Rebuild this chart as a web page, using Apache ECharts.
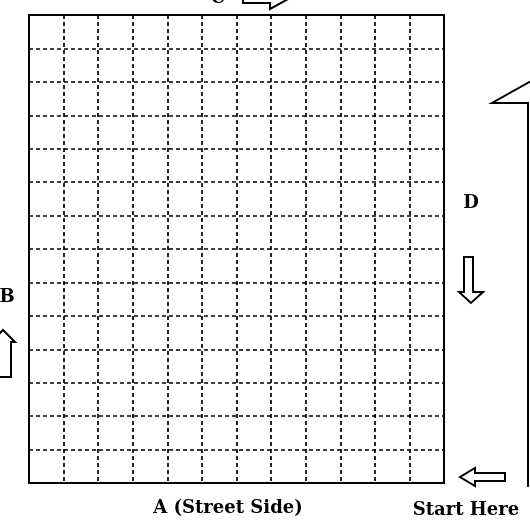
<!DOCTYPE html>
<html>
<head>
<meta charset="utf-8">
<script src="https://cdn.jsdelivr.net/npm/echarts@6/dist/echarts.min.js"></script>
<style>
  html, body { margin: 0; padding: 0; background: #fff; }
  #plot { width: 530px; height: 528px; }
</style>
</head>
<body>
<div id="plot"></div>
<script>
  // grid cells: 12 columns along the street side, 14 rows up the sides
  var colTicks = [0, 1, 2, 3, 4, 5, 6, 7, 8, 9, 10, 11, 12]
  var rowTicks = [0, 1, 2, 3, 4, 5, 6, 7, 8, 9, 10, 11, 12, 13, 14]
  var sideLabels = ['A (Street Side)', 'B', 'C', 'D']
  var startLabel = 'Start Here'

  var chart = echarts.init(document.getElementById('plot'))
  var font = '"DejaVu Serif", "Liberation Serif", serif'
  var ink = '#000'

  var dashed = {
    show: true,
    lineStyle: { color: ink, width: 1.7, type: [4, 3] }
  }

  function arrow(points) {
    return {
      type: 'polygon',
      shape: { points: points },
      style: { fill: '#fff', stroke: ink, lineWidth: 2 },
      z: 10
    }
  }

  var option = {
    animation: false,
    backgroundColor: '#fff',
    grid: {
      left: 29,
      top: 15,
      width: 415,
      height: 468,
      show: true,
      borderColor: ink,
      borderWidth: 2,
      z: 5
    },
    xAxis: {
      type: 'value',
      min: colTicks[0],
      max: colTicks[colTicks.length - 1],
      interval: 1,
      axisLine: { show: false },
      axisTick: { show: false },
      axisLabel: { show: false },
      splitLine: dashed
    },
    yAxis: {
      type: 'value',
      min: rowTicks[0],
      max: rowTicks[rowTicks.length - 1],
      interval: 1,
      axisLine: { show: false },
      axisTick: { show: false },
      axisLabel: { show: false },
      splitLine: dashed
    },
    series: [{ type: 'line', data: [], silent: true }],
    graphic: [
      {
        type: 'text', x: 228, y: 508,
        style: { text: sideLabels[0], align: 'center', verticalAlign: 'middle', font: 'bold 18px ' + font, fill: ink }
      },
      {
        type: 'text', x: 7, y: 297,
        style: { text: sideLabels[1], align: 'center', verticalAlign: 'middle', font: 'bold 18px ' + font, fill: ink }
      },
      {
        type: 'text', x: 218, y: -2,
        style: { text: sideLabels[2], align: 'center', verticalAlign: 'middle', font: 'bold 18px ' + font, fill: ink }
      },
      {
        type: 'text', x: 471, y: 203,
        style: { text: sideLabels[3], align: 'center', verticalAlign: 'middle', font: 'bold 18px ' + font, fill: ink }
      },
      {
        type: 'text', x: 466, y: 510,
        style: { text: startLabel, align: 'center', verticalAlign: 'middle', font: 'bold 18px ' + font, fill: ink }
      },
      // C arrow (pointing right, clipped at top)
      arrow([[243, -6], [270, -6], [270, -14], [290, -2], [270, 9], [270, 3], [243, 3]]),
      // B arrow (pointing up, clipped at left)
      arrow([[-4, 377], [-4, 342], [-9, 342], [3, 330], [15, 342], [11, 342], [11, 377]]),
      // D arrow (pointing down)
      arrow([[464, 257], [473, 257], [473, 292], [483, 292], [471, 303], [459, 292], [464, 292]]),
      // start arrow (pointing left)
      arrow([[505, 473], [505, 481], [475, 481], [475, 486], [460, 477], [475, 468], [475, 473]]),
      // big up arrow on the right edge
      {
        type: 'polyline',
        shape: { points: [[528, 487], [528, 103], [492, 103], [540, 76]] },
        style: { fill: null, stroke: ink, lineWidth: 2 }
      }
    ]
  }

  chart.setOption(option)
</script>
</body>
</html>
